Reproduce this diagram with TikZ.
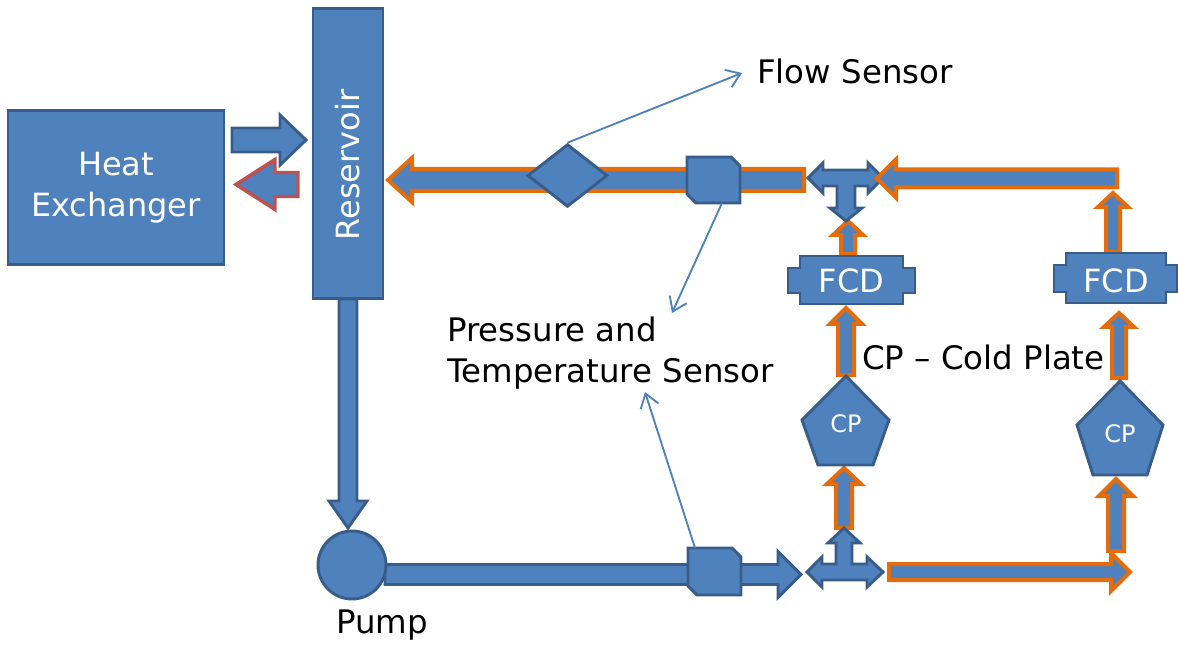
\documentclass[tikz,border=0pt]{standalone}
\usepackage{fontspec}
\setmainfont{DejaVu Sans}
\usetikzlibrary{arrows.meta,shapes.geometric}
\definecolor{blockfill}{HTML}{4F81BD}
\definecolor{blockline}{HTML}{385D8A}
\definecolor{pipeorange}{HTML}{E46C0A}
\definecolor{pipered}{HTML}{C0504D}
% style, x, y, angle, length, half shaft, half head, head length
\newcommand{\blockarrow}[8]{\draw[#1,shift={(#2,#3)},rotate=#4] (0,-#6) -- ({#5-#8},-#6) -- ({#5-#8},-#7) -- (#5,0) -- ({#5-#8},#7) -- ({#5-#8},#6) -- (0,#6) -- cycle;}
% x, y of the top left corner, width, height
\newcommand{\snipbox}[5]{\draw[blockbase,shift={(#2,#3)}] (0,0) -- ({#4-9},0) -- (#4,9) -- (#4,#5) -- (9,#5) -- (0,{#5-9}) -- cycle; \coordinate (#1) at ({#2+#4/2},{#3+#5/2});}
\tikzset{
  blockbase/.style={fill=blockfill,draw=blockline,line width=2.2pt,line join=miter},
  orangepipe/.style={fill=blockfill,draw=pipeorange,line width=3pt},
  redpipe/.style={fill=blockfill,draw=pipered,line width=2.6pt},
  blockbox/.style={blockbase,inner sep=0pt,text=white,align=center},
  whitetext/.style={text=white,inner sep=0pt,align=center,font=\fontsize{24}{31}\selectfont},
  blacktext/.style={text=black,inner sep=0pt,align=left,font=\fontsize{24.3}{31}\selectfont},
  sensorline/.style={draw=blockfill,line width=1.4pt,-{Straight Barb[length=10pt,width=14pt]}}
}
\begin{document}
\begin{tikzpicture}[x=0.75pt,y=-0.75pt]
  \useasboundingbox (0,0) rectangle (1178,645);
  % heat exchanger side
  \node[blockbox,minimum width=162pt,minimum height=116pt,whitetext] (exchanger) at (116,187.5) {Heat\\Exchanger};
  \blockarrow{blockbase}{232}{140}{0}{74}{12}{25}{26}
  \blockarrow{redpipe}{298}{184.5}{180}{62}{12}{25}{39}
  \node[blockbox,minimum width=52.5pt,minimum height=218pt] (reservoir) at (348,153.5) {};
  \node[whitetext,rotate=90] (reservoirtext) at (348,165) {Reservoir};
  % return pipe
  \blockarrow{orangepipe}{804}{180}{180}{416}{11}{22}{24}
  \node[blockbox,diamond,minimum width=60pt,minimum height=47pt] (flowsensor) at (567.5,175.5) {};
  \snipbox{topsensor}{687}{157}{53}{46}
  % supply side
  \blockarrow{blockbase}{348}{299}{-90}{229}{9}{19}{27}
  \blockarrow{blockbase}{385}{574.5}{0}{416}{10}{23}{23}
  \node[blockbox,circle,minimum size=51pt] (pump) at (352,565) {};
  \snipbox{lowsensor}{688}{548}{53}{47}
  % orange risers
  \foreach \X/\Y/\L/\S/\H/\B in {848/254/33/7/15/14, 1113/252/59/7/15/14, 846/375/67/8/16/16, 1119/378/65/7/15/14, 844/528/60/8/17/16, 1116/551/72/8/17/17}
  {\blockarrow{orangepipe}{\X}{\Y}{90}{\L}{\S}{\H}{\B}}
  % tees
  \draw[blockbase] (808,178) -- (823,163) -- (823,170) -- (868,170) -- (868,163) -- (883,178) -- (868,193) -- (868,186) -- (855,186) -- (855,208) -- (862,208) -- (846,221) -- (830,208) -- (837,208) -- (837,186) -- (823,186) -- (823,193) -- cycle;
  \draw[blockbase] (807,572) -- (822,557) -- (822,564) -- (836,564) -- (836,543) -- (828,543) -- (844,528) -- (860,543) -- (852,543) -- (852,564) -- (867,564) -- (867,557) -- (883,572) -- (867,587) -- (867,580) -- (822,580) -- (822,587) -- cycle;
  \blockarrow{orangepipe}{1117}{178.5}{180}{240}{9}{19}{19}
  \blockarrow{orangepipe}{889}{572}{0}{241}{8}{19}{19}
  % flow control devices
  \draw[blockbase] (800,256) -- (903,256) -- (903,268) -- (915,268) -- (915,293) -- (903,293) -- (903,304) -- (800,304) -- (800,293) -- (788,293) -- (788,268) -- (800,268) -- cycle;
  \draw[blockbase] (1066,253) -- (1166,253) -- (1166,265) -- (1177,265) -- (1177,292) -- (1166,292) -- (1166,303) -- (1066,303) -- (1066,292) -- (1054,292) -- (1054,265) -- (1066,265) -- cycle;
  \node[whitetext] (fcda) at (851.5,281) {FCD};
  \node[whitetext] (fcdb) at (1116,281) {FCD};
  % cold plates
  \draw[blockbase] (846,376) -- (889,420) -- (873,465) -- (818,465) -- (802,420) -- cycle;
  \draw[blockbase] (1120,381) -- (1163,425) -- (1147,475) -- (1093,475) -- (1077,425) -- cycle;
  \node[whitetext,font=\fontsize{18}{20}\selectfont] (cpa) at (846,424) {CP};
  \node[whitetext,font=\fontsize{18}{20}\selectfont] (cpb) at (1120,434) {CP};
  % labels
  \node[blacktext,anchor=west] (flowlabel) at (757,71) {Flow Sensor};
  \node[blacktext,anchor=west] (ptlabel) at (447,353) {Pressure and\\Temperature Sensor};
  \node[blacktext,anchor=west] (cplabel) at (862,357) {CP -- Cold Plate};
  \node[blacktext,anchor=west] (pumplabel) at (336,625) {Pump};
  % sensor leaders
  \coordinate (flowtip) at (742,73);
  \coordinate (toptip) at (672,313);
  \coordinate (lowtip) at (645,392);
  \coordinate (topfoot) at (722,203);
  \coordinate (lowfoot) at (695,548);
  \draw[sensorline] (flowsensor.north) -- (flowtip);
  \draw[sensorline] (topfoot) -- (toptip);
  \draw[sensorline] (lowfoot) -- (lowtip);
\end{tikzpicture}
\end{document}
